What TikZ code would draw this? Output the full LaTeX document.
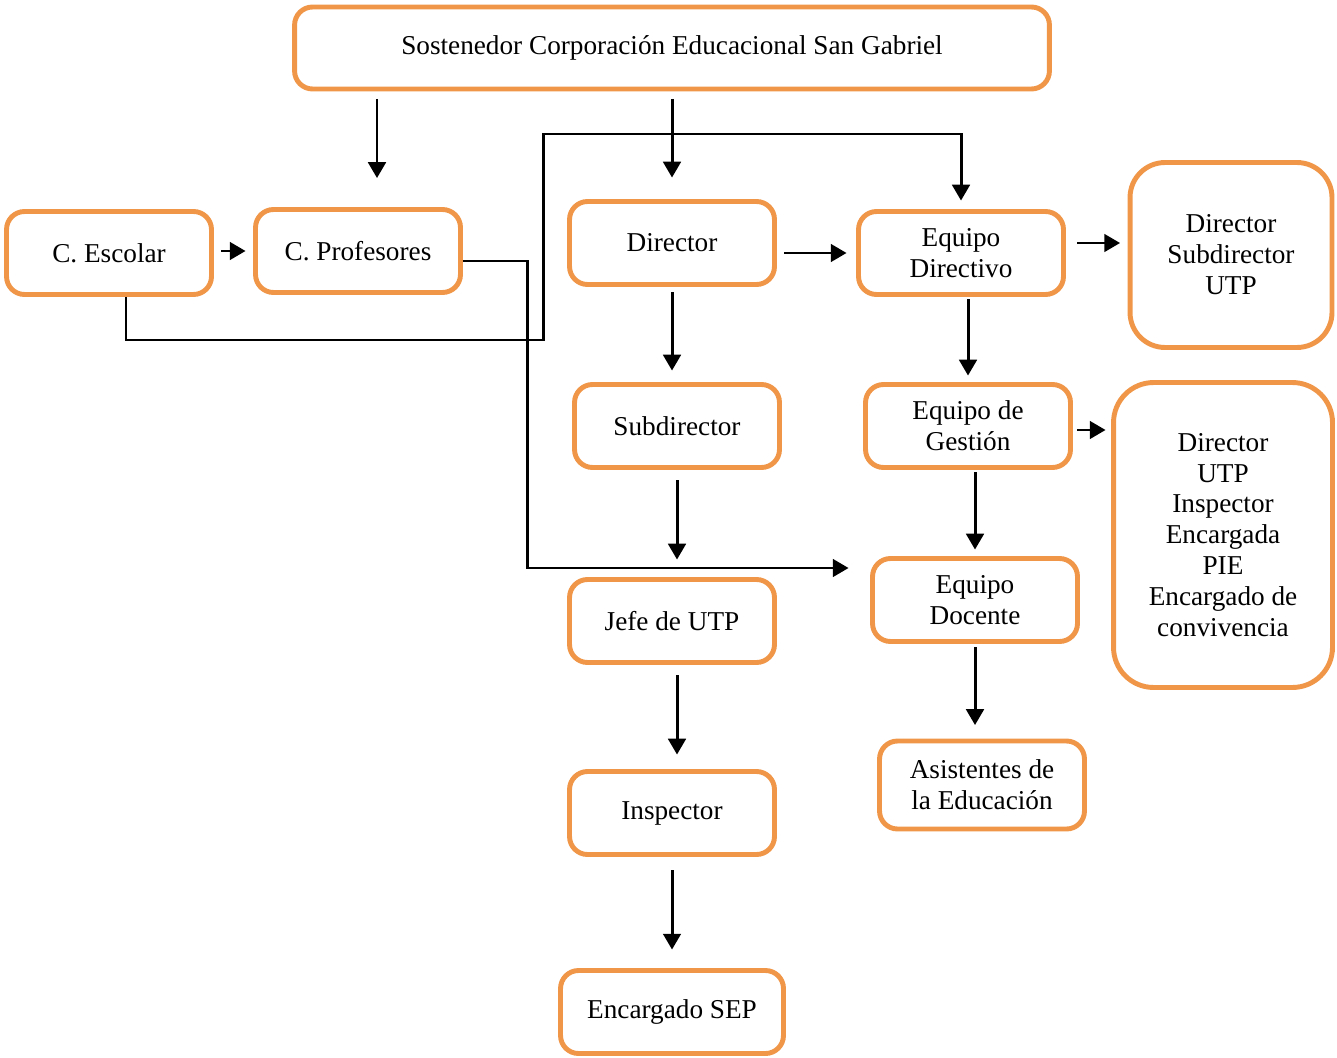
\documentclass[tikz,border=0pt]{standalone}
\usepackage{fontspec}
\setmainfont{Liberation Serif}
\usetikzlibrary{arrows.meta}
\definecolor{naranja}{RGB}{240,150,72}
\tikzset{
  caja/.style={draw=naranja, line width=2.8pt, rounded corners=0.36cm, align=center,
    minimum width=4.1cm, minimum height=1.66cm, inner sep=2pt,
    font=\fontsize{15.5}{17.6}\selectfont},
  flecha/.style={-{Triangle[length=9pt,width=10pt]}, line width=1.7pt},
}
\begin{document}
\begin{tikzpicture}[x=0.02cm,y=-0.02cm]
\useasboundingbox (0,0) rectangle (1337,1057);
% cajas
\node[caja, minimum width=15.1cm, minimum height=1.64cm] (sost) at (672,48) {Sostenedor Corporación Educacional San Gabriel};
\node[caja] (escolar) at (109,253) {C. Escolar};
\node[caja] (profes) at (358,251) {C. Profesores};
\node[caja] (dir) at (672,243) {Director};
\node[caja] (edir) at (961,253) {Equipo\\Directivo};
\node[caja, rounded corners=0.7cm, minimum width=4.04cm, minimum height=3.7cm] (rdir) at (1231,255) {Director\\Subdirector\\UTP};
\node[caja] (sub) at (677,426) {Subdirector};
\node[caja] (egest) at (968,426) {Equipo de\\Gestión};
\node[caja, rounded corners=0.8cm, minimum width=4.38cm, minimum height=6.1cm] (rgest) at (1223,535) {Director\\UTP\\Inspector\\Encargada\\PIE\\Encargado de\\convivencia};
\node[caja] (jefe) at (672,621) {Jefe de UTP};
\node[caja] (edoc) at (975,600) {Equipo\\Docente};
\node[caja] (insp) at (672,813) {Inspector};
\node[caja, minimum height=1.76cm] (asist) at (982,785) {Asistentes de\\la Educación};
\node[caja, minimum width=4.46cm] (sep) at (672,1012) {Encargado SEP};
% esquinas de las lineas
\coordinate (cruce) at (543,340);
\coordinate (cruceb) at (543,134);
\coordinate (bajada) at (527,568);
% flechas
\draw[flecha, shorten <=0.15cm, shorten >=0.58cm] ([xshift=0.38cm]profes.north |- sost.south) -- ([xshift=0.38cm]profes.north);
\draw[flecha, shorten <=0.15cm, shorten >=0.43cm] (sost.south -| dir.north) -- (dir.north);
\draw[flecha, shorten >=0.17cm] ([xshift=0.34cm]escolar.south) |- (cruce) -- (cruceb) -| (edir.north);
\draw[flecha, shorten <=0.15cm, shorten >=0.15cm] (escolar.east |- profes) -- (profes.west);
\draw[flecha, shorten >=0.43cm] ([yshift=-0.2cm]profes.east) -| (bajada) -- (bajada -| edoc.west);
\draw[flecha, shorten <=0.15cm, shorten >=0.19cm] (dir.east |- edir) -- (edir.west);
\draw[flecha, shorten <=0.11cm, shorten >=0.23cm] (dir.south) -- (dir.south |- sub.north);
\draw[flecha, shorten <=0.05cm, shorten >=0.13cm] (egest.north |- edir.south) -- (egest.north);
\draw[flecha, shorten <=0.23cm, shorten >=0.15cm] ([yshift=0.2cm]edir.east) -- ([yshift=0.2cm]edir.east -| rdir.west);
\draw[flecha, shorten <=0.09cm, shorten >=0.11cm] ([yshift=-0.08cm]egest.east) -- ([yshift=-0.08cm]egest.east -| rgest.west);
\draw[flecha, shorten <=0.21cm, shorten >=0.35cm] (sub.south) -- (sub.south |- jefe.north);
\draw[flecha, shorten <=0.05cm, shorten >=0.13cm] (edoc.north |- egest.south) -- (edoc.north);
\draw[flecha, shorten <=0.21cm, shorten >=0.29cm] ([xshift=0.1cm]jefe.south) -- ([xshift=0.1cm]insp.north);
\draw[flecha, shorten <=0.07cm, shorten >=0.27cm] (edoc.south) -- (edoc.south |- asist.north);
\draw[flecha, shorten <=0.27cm, shorten >=0.37cm] (insp.south) -- (sep.north);
\end{tikzpicture}
\end{document}
